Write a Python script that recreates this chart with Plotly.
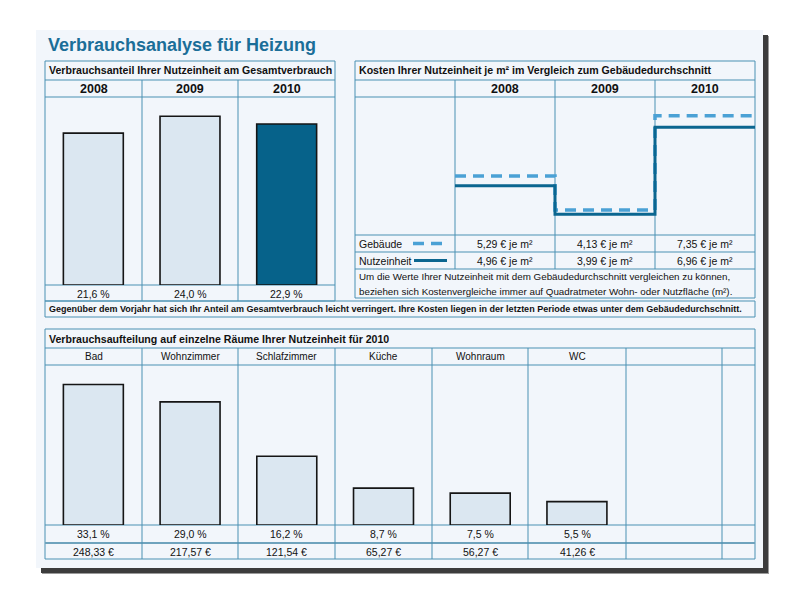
import plotly.graph_objects as go

# ---------------- data ----------------
years = ["2008", "2009", "2010"]
share_pct = [21.6, 24.0, 22.9]                 # Verbrauchsanteil in %
cost_building = [5.29, 4.13, 7.35]             # Gebäude € je m²
cost_unit = [4.96, 3.99, 6.96]                 # Nutzeinheit € je m²
rooms = ["Bad", "Wohnzimmer", "Schlafzimmer", "Küche", "Wohnraum", "WC"]
room_pct = [33.1, 29.0, 16.2, 8.7, 7.5, 5.5]
room_eur = [248.33, 217.57, 121.54, 65.27, 56.27, 41.26]

TITLE = "Verbrauchsanalyse für Heizung"
H_LEFT = "Verbrauchsanteil Ihrer Nutzeinheit am Gesamtverbrauch"
H_RIGHT = "Kosten Ihrer Nutzeinheit je m² im Vergleich zum Gebäudedurchschnitt"
H_BOTTOM = "Verbrauchsaufteilung auf einzelne Räume Ihrer Nutzeinheit für 2010"
NOTE1 = "Um die Werte Ihrer Nutzeinheit mit dem Gebäudedurchschnitt vergleichen zu können,"
NOTE2 = "beziehen sich Kostenvergleiche immer auf Quadratmeter Wohn- oder Nutzfläche (m²)."
SUMMARY = ("Gegenüber dem Vorjahr hat sich Ihr Anteil am Gesamtverbrauch leicht verringert. "
           "Ihre Kosten liegen in der letzten Periode etwas unter dem Gebäudedurchschnitt.")

# ---------------- style ----------------
W, H = 800, 600
OFF = 8  # page body margin
FONT = "Liberation Sans, Arial, sans-serif"
CARD = "#f2f6fb"
GRID = "#4a91b3"
TITLE_C = "#1b6e98"
BAR_LIGHT = "#dbe7f1"
BAR_DARK = "#06628a"
DASH_C = "#4ba1d5"
SOLID_C = "#0b6690"


def px(x):
    return (x - OFF) / W


def py(y):
    return 1 - (y - OFF) / H


def de(v, d):
    return f"{v:.{d}f}".replace(".", ",")


shapes = []
annotations = []


def rect(x0, y0, x1, y1, fill, line=None, lw=0):
    shapes.append(dict(type="rect", xref="paper", yref="paper",
                       x0=px(x0), x1=px(x1), y0=py(y1), y1=py(y0),
                       fillcolor=fill, line=dict(color=line or fill, width=lw),
                       layer="below"))


def hline(y, x0, x1, color=GRID, w=1):
    shapes.append(dict(type="line", xref="paper", yref="paper",
                       x0=px(x0), x1=px(x1), y0=py(y), y1=py(y),
                       line=dict(color=color, width=w), layer="below"))


def vline(x, y0, y1, color=GRID, w=1):
    shapes.append(dict(type="line", xref="paper", yref="paper",
                       x0=px(x), x1=px(x), y0=py(y0), y1=py(y1),
                       line=dict(color=color, width=w), layer="below"))


def text(t, x, y, size=10, bold=False, anchor="left", color="#111111"):
    if bold:
        t = f"<b>{t}</b>"
    annotations.append(dict(text=t, xref="paper", yref="paper",
                            x=px(x), y=py(y), xanchor=anchor, yanchor="middle",
                            showarrow=False, borderpad=0,
                            font=dict(family=FONT, size=size, color=color)))


# card with soft shadow
rect(42, 36, 769, 574, "#9a9a9a")
rect(41, 35, 768, 573, "#3c3c3c")
rect(36, 30, 763, 568, CARD)

text(TITLE, 47, 45, size=18, bold=True, color=TITLE_C)

# ---- left panel ----
L0, L1 = 45, 335
lcols = [45, 142, 238, 335]
rect(L0, 61, L1, 301, "rgba(0,0,0,0)", GRID, 1)
hline(80, L0, L1)
hline(97, L0, L1)
hline(285, L0, L1)
for x in lcols[1:-1]:
    vline(x, 80, 301)
text(H_LEFT, 48, 70.5, size=10.6, bold=True)
for i, yr in enumerate(years):
    cx = (lcols[i] + lcols[i + 1]) / 2
    text(yr, cx, 88.5, size=12.5, bold=True, anchor="center")
    text(de(share_pct[i], 1) + " %", cx, 293.5, size=10.5, anchor="center")

# summary row
rect(45, 301, 755, 317, "rgba(0,0,0,0)", GRID, 1)
text(SUMMARY, 48, 309.5, size=9.0, bold=True)

# ---- right panel ----
R0, R1 = 355, 755
rcols = [355, 455, 555, 655, 755]
rect(R0, 61, R1, 298, "rgba(0,0,0,0)", GRID, 1)
for y in (80, 97, 235, 252, 269):
    hline(y, R0, R1)
for x in rcols[1:-1]:
    vline(x, 80, 269)
text(H_RIGHT, 358, 70.5, size=10.6, bold=True)
for i, yr in enumerate(years):
    cx = (rcols[i + 1] + rcols[i + 2]) / 2
    text(yr, cx, 88.5, size=12.5, bold=True, anchor="center")
    text(de(cost_building[i], 2) + " € je m²", cx, 243.5, size=10.5, anchor="center")
    text(de(cost_unit[i], 2) + " € je m²", cx, 260.5, size=10.5, anchor="center")
text("Gebäude", 358, 243.5, size=10.5)
text("Nutzeinheit", 358, 260.5, size=10.5)
shapes.append(dict(type="line", xref="paper", yref="paper", x0=px(413), x1=px(448),
                   y0=py(243.5), y1=py(243.5), line=dict(color=DASH_C, width=3.5, dash="11px,7px")))
shapes.append(dict(type="line", xref="paper", yref="paper", x0=px(414), x1=px(447),
                   y0=py(260.5), y1=py(260.5), line=dict(color=SOLID_C, width=3)))
text(NOTE1, 358, 276.5, size=9.8)
text(NOTE2, 358, 291, size=9.8)

# ---- bottom panel ----
B0, B1 = 45, 755
bcols = [45, 142, 238, 335, 432, 528, 626, 722, 755]
rect(B0, 329, B1, 559, "rgba(0,0,0,0)", GRID, 1)
hline(348, B0, B1)
hline(365, B0, B1)
hline(525, B0, B1)
hline(543, B0, B1, color="#6fa3bd", w=2)
for x in bcols[1:-1]:
    vline(x, 348, 559)
text(H_BOTTOM, 48, 338.5, size=10.6, bold=True)
for i, r in enumerate(rooms):
    cx = (bcols[i] + bcols[i + 1]) / 2
    text(r, cx, 356.5, size=10, anchor="center")
    text(de(room_pct[i], 1) + " %", cx, 534, size=10.5, anchor="center")
    text(de(room_eur[i], 2) + " €", cx, 551.5, size=10.5, anchor="center")

# ---------------- traces ----------------
fig = go.Figure()

fig.add_trace(go.Bar(
    x=list(range(len(years))), y=share_pct, width=0.62,
    marker=dict(color=[BAR_LIGHT, BAR_LIGHT, BAR_DARK], line=dict(color="#151515", width=1.6)),
    xaxis="x", yaxis="y", hoverinfo="skip"))

step_x = [1, 2, 3, 4]
fig.add_trace(go.Scatter(
    x=step_x, y=cost_building + [cost_building[-1]], mode="lines", line_shape="hv",
    line=dict(color=DASH_C, width=3.5, dash="11px,7px"),
    xaxis="x2", yaxis="y2", hoverinfo="skip"))
fig.add_trace(go.Scatter(
    x=step_x, y=cost_unit + [cost_unit[-1]], mode="lines", line_shape="hv",
    line=dict(color=SOLID_C, width=3),
    xaxis="x2", yaxis="y2", hoverinfo="skip"))

fig.add_trace(go.Bar(
    x=list(range(len(rooms))), y=room_pct, width=0.62,
    marker=dict(color=BAR_LIGHT, line=dict(color="#151515", width=1.6)),
    xaxis="x3", yaxis="y3", hoverinfo="skip"))

hidden = dict(visible=False, fixedrange=True, showgrid=False, zeroline=False)

fig.update_layout(
    width=W, height=H,
    margin=dict(l=0, r=0, t=0, b=0),
    paper_bgcolor="white",
    plot_bgcolor="rgba(0,0,0,0)",
    showlegend=False,
    xaxis=dict(hidden, domain=[px(45), px(335)], range=[-0.5, 2.5], anchor="y"),
    yaxis=dict(hidden, domain=[py(285), py(97)], range=[0, 26.74], anchor="x"),
    xaxis2=dict(hidden, domain=[px(355), px(755)], range=[0, 4], anchor="y2"),
    yaxis2=dict(hidden, domain=[py(235), py(97)], range=[3.28, 7.99], anchor="x2"),
    xaxis3=dict(hidden, domain=[px(45), px(722)], range=[-0.5, 6.5], anchor="y3"),
    yaxis3=dict(hidden, domain=[py(525), py(365)], range=[0, 37.7], anchor="x3"),
    shapes=shapes,
    annotations=annotations,
)

fig.write_html("out.html")
